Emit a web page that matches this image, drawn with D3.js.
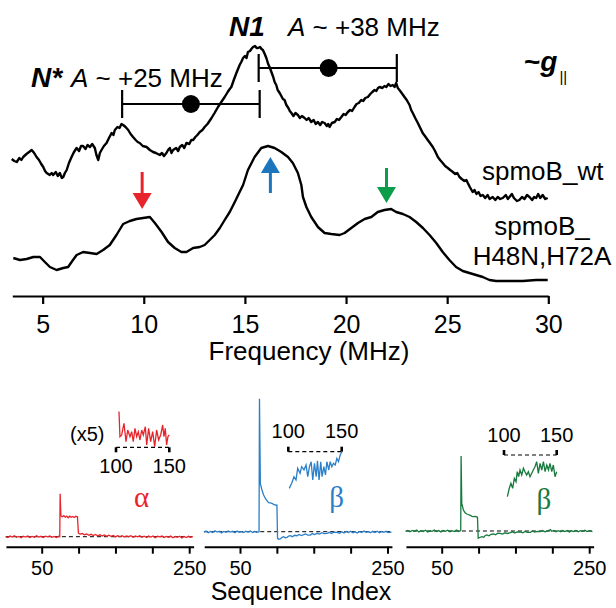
<!DOCTYPE html>
<html>
<head>
<meta charset="utf-8">
<script src="https://cdn.jsdelivr.net/npm/d3@7.9.0/dist/d3.min.js"></script>
<style>
  body { margin: 0; background: #fff; }
  svg { display: block; }
</style>
</head>
<body>
<svg id="chart" width="616" height="608"></svg>
<script>
// ENDOR spectra: [frequency (MHz), intensity (a.u.)]
const wtSpectrum = [
  [3.47,137],[3.6,135],[3.72,134],[3.85,138],[3.95,136],[4.04,139],[4.2,142],[4.33,144],[4.46,146],[4.58,143],
  [4.70,139],[4.82,136],[4.93,132],[5.03,129],[5.12,125],[5.20,123],[5.35,121],[5.45,123],[5.52,121],[5.65,124],
  [5.75,120],[5.85,123],[5.95,118],[6.02,119],[6.1,123],[6.19,126],[6.3,133],[6.43,139],[6.55,144],[6.68,148],
  [6.8,145],[6.9,150],[7.00,150],[7.12,147],[7.22,151],[7.34,149],[7.45,152],[7.58,148],[7.66,141],[7.75,136],
  [7.83,143],[7.91,146],[8.03,150],[8.16,153],[8.28,158],[8.41,163],[8.5,161],[8.57,166],[8.7,169],[8.8,168],
  [8.9,172],[8.98,171],[9.1,169],[9.23,166],[9.35,162],[9.47,159],[9.6,156],[9.7,154],[9.80,153],[9.95,150],
  [10.14,149],[10.3,146],[10.46,144],[10.6,143],[10.79,141],[10.9,143],[11.0,140],[11.12,143],[11.2,146],[11.29,148],
  [11.37,143],[11.45,146],[11.6,148],[11.7,145],[11.78,149],[11.9,151],[12.0,148],[12.11,153],[12.25,152],[12.35,156],
  [12.44,156],[12.55,159],[12.65,161],[12.77,164],[12.9,166],[13.01,169],[13.15,172],[13.25,175],[13.35,178],[13.5,183],
  [13.67,189],[13.8,193],[13.9,196],[14.00,199],[14.15,204],[14.25,207],[14.33,209],[14.45,216],[14.58,223],[14.66,227],
  [14.74,231],[14.82,234],[14.91,238],[15.0,240],[15.08,238],[15.15,244],[15.25,245],[15.32,247],[15.40,249],[15.5,250],
  [15.58,248],[15.65,248],[15.75,249],[15.82,247],[15.89,246],[15.98,242],[16.06,238],[16.15,232],[16.22,229],[16.31,224],
  [16.4,219],[16.47,214],[16.55,211],[16.62,206],[16.72,203],[16.8,200],[16.88,197],[16.96,196],[17.05,191],[17.15,188],
  [17.22,185],[17.30,183],[17.4,180],[17.5,183],[17.62,181],[17.72,178],[17.82,180],[17.95,178],[18.05,176],[18.15,178],
  [18.28,174],[18.4,176],[18.5,172],[18.61,174],[18.72,171],[18.82,174],[18.94,173],[19.05,170],[19.12,172],[19.19,169],
  [19.3,173],[19.44,174],[19.55,177],[19.65,176],[19.77,179],[19.88,182],[19.98,181],[20.09,184],[20.2,186],[20.3,185],
  [20.42,189],[20.52,192],[20.63,193],[20.75,196],[20.85,195],[20.95,198],[21.08,199],[21.2,202],[21.3,204],[21.41,206],
  [21.5,205],[21.58,208],[21.66,209],[21.8,208],[21.9,210],[21.99,209],[22.1,212],[22.2,210],[22.31,211],[22.4,209],
  [22.48,213],[22.56,208],[22.64,206],[22.75,203],[22.89,199],[23.0,196],[23.14,191],[23.22,186],[23.30,183],[23.42,178],
  [23.55,173],[23.67,168],[23.79,163],[23.9,160],[24.04,156],[24.15,153],[24.29,149],[24.4,145],[24.54,139],[24.65,136],
  [24.78,133],[24.9,130],[25.03,128],[25.15,126],[25.28,124],[25.4,122],[25.5,123],[25.61,119],[25.72,117],[25.85,115],
  [25.95,116],[26.02,113],[26.12,109],[26.26,104],[26.35,106],[26.45,102],[26.55,104],[26.65,100],[26.76,101],[26.88,98],
  [27.0,101],[27.1,97],[27.25,99],[27.38,96],[27.5,99],[27.62,97],[27.75,98],[27.9,101],[28.0,97],[28.08,99],
  [28.2,102],[28.3,98],[28.45,95],[28.57,96],[28.7,99],[28.82,97],[28.95,101],[29.07,99],[29.2,96],[29.3,99],
  [29.40,98],[29.5,102],[29.6,98],[29.72,101],[29.85,97],[29.97,98]
];

const mutantSpectrum = [
  [3.55,38],[3.88,36],[4.21,37],[4.54,39],[4.87,39],[5.11,34],[5.36,29],[5.69,26],[6.02,28],[6.26,29],
  [6.43,34],[6.68,41],[7.00,44],[7.34,43],[7.67,42],[7.99,46],[8.32,51],[8.65,61],[8.98,72],[9.31,75],
  [9.64,77],[9.97,78],[10.30,79],[10.55,73],[10.88,64],[11.20,54],[11.53,48],[11.86,44],[12.11,44],[12.44,48],
  [12.77,49],[13.01,51],[13.26,56],[13.51,61],[13.76,68],[14.00,76],[14.25,84],[14.50,94],[14.74,104],[14.91,111],
  [15.15,126],[15.48,139],[15.81,148],[16.14,150],[16.47,148],[16.80,144],[17.13,139],[17.37,133],[17.62,123],[17.79,111],
  [17.87,99],[18.04,89],[18.28,79],[18.61,69],[18.94,63],[19.27,62],[19.68,61],[19.93,63],[20.26,68],[20.59,73],
  [20.92,77],[21.25,79],[21.57,84],[21.90,86],[22.23,87],[22.48,84],[22.81,82],[23.14,79],[23.47,74],[23.80,68],
  [24.13,61],[24.46,53],[24.78,44],[25.11,36],[25.44,29],[25.77,25],[26.10,23],[26.43,21],[26.76,19],[27.09,16],
  [27.42,15],[28.08,15],[28.74,15],[29.40,16],[29.97,16]
];

const freqTicks = [5, 10, 15, 20, 25, 30];

// hyperfine splitting bars: [low MHz, centre MHz, high MHz, level a.u.]
const nStarBar = [8.93, 12.33, 15.73, 192];
const n1Bar = [15.68, 19.14, 22.51, 228];

// marked peaks of the mutant (MHz)
const peakArrows = [9.92, 16.26, 22.0];

// sequence traces: [sequence index, signal a.u.]
const alphaTrace = [
  [1,0],[4,-0.8],[7,0.6],[10,-0.4],[13,0.9],[16,-0.6],[19,0.3],[22,-1],[25,0.5],[28,-0.3],[31,0.8],[34,-0.7],
  [37,0.2],[40,-0.5],[43,1],[46,-0.4],[49,0.4],[52,-0.9],[55,0.6],[58,-0.2],[61,0.7],[64,-0.6],[67,0.3],[70,-0.8],
  [73,0.4],[74.5,0],[75,43],[76,21],[78,20],[80,21],[82,19.5],[84,20.5],[86,19],[88,20.5],[90,19.5],[92,20.3],
  [94,19.2],[96,20.4],[98.5,20],[99.8,3.5],[102,2.6],[105,3.2],[108,2],[111,2.8],[114,1.5],[117,2.4],[120,1.2],
  [123,2.2],[126,0.9],[129,1.9],[132,0.6],[135,1.7],[138,0.4],[141,1.5],[144,0.3],[147,1.2],[150,-0.2],[153,1.1],
  [156,0.2],[159,1],[162,-0.4],[165,0.8],[168,0],[171,1],[174,-0.6],[177,0.7],[180,-0.2],[183,0.9],[186,-0.5],
  [189,0.5],[192,-0.8],[195,0.6],[198,-0.3],[201,0.7],[204,-1],[207,0.4],[210,-0.2],[213,0.8],[216,-0.7],[219,0.3],
  [222,-0.5],[225,0.6],[228,-1],[231,0.2],[234,-0.6],[237,0.5],[240,-1.2],[243,0.3],[246,-0.8],[249,0.4],[252,-0.5],[255,0]
];
const betaTrace = [
  [1,-0.5],[4,0.6],[7,-1],[10,0.3],[13,-0.8],[16,0.9],[19,-0.4],[22,0.5],[25,-1.2],[28,0.2],[31,-0.6],[34,0.8],
  [37,-0.3],[40,0.4],[43,-1],[46,0.6],[49,-0.5],[52,0.1],[55,-0.9],[58,0.5],[61,-0.4],[64,0.7],[67,-0.8],[70,0.2],
  [73,-0.6],[75.8,0],[76.4,133],[77.6,48],[79.7,42],[81.9,37],[84.2,33.5],[86.5,31],[88.7,29],[91,28.8],[93.3,28.4],
  [95.5,27.3],[97.8,26.7],[100.1,26.5],[100.9,-6.6],[102.5,-7.5],[104.6,-7.3],[107,-5.6],[109.1,-5],[111.5,-6.2],
  [113.8,-5.6],[116,-4.3],[118.3,-4],[121,-5],[124,-3.6],[127.4,-4],[130,-2.8],[133,-3.8],[136.4,-3],[139,-2.2],
  [142,-3.5],[145.5,-3.3],[148,-1.9],[151,-2.8],[154.6,-1.6],[158,-2.4],[161,-1],[164,-2],[168.3,-1.6],[171,-0.6],
  [174,-1.8],[177,-0.4],[181.9,-0.6],[185,-1.5],[188,0],[191,-1.2],[194,0.3],[197,-0.9],[200,0.5],[203,-1],[206,-0.1],
  [209,-1.3],[212,0.2],[215,-0.8],[218,0.6],[221,-0.6],[224,0.1],[227,-1],[230,0.4],[233,-0.7],[236,0.5],[239,-1.1],
  [242,0.2],[245,-0.6],[248,0.4],[251,-0.9],[255.4,-0.5]
];
const beta2Trace = [
  [1,-0.5],[4,0.5],[7,-0.8],[10,0.6],[13,-0.3],[16,0.9],[19,-1],[22,0.3],[25,-0.5],[28,0.7],[31,-0.9],[34,0.2],
  [37,-0.4],[40,1],[43,-0.6],[46,0.4],[49,-1],[52,0.5],[55,-0.3],[58,0.8],[61,-0.7],[64,0.3],[67,-0.5],[70,0.9],
  [73,-0.4],[75.8,0.5],[76.3,75],[77.2,27.7],[79.4,21],[81.7,18.3],[84,17],[86,16.5],[88.6,15.7],[91,14.6],[93.1,14.3],
  [96,14.5],[98.5,13.7],[99.5,-7.3],[101.5,-6.5],[104.5,-5.7],[107,-6.3],[109,-4.5],[111.3,-4],[114,-4.8],[117,-3.3],
  [120.3,-3],[123,-3.8],[126,-2.2],[129.4,-2.3],[132,-3],[136,-1.8],[139,-2.5],[143,-1.7],[146,-0.8],[149,-2],[152,-1],
  [156.7,-1],[160,-1.8],[163,-0.4],[166,-1.4],[170.3,-1.3],[173,0],[176,-1.1],[180,-0.3],[183.9,-0.7],[187,0.4],[190,-0.9],
  [194,0.2],[197.5,1.5],[199,-0.3],[202,0.6],[205,-0.8],[208,0.3],[211.2,-0.7],[214,0.5],[217,-0.6],[220,0.4],[223,-0.9],
  [226,0.2],[229,-0.5],[232,0.6],[235,-0.8],[238,0.3],[241,-0.4],[244,0.7],[247,-0.6],[250,0.4],[254.4,-0.7]
];

// zoomed (x5) 100-150 region of each trace
const alphaZoom = [
  [102.8,35.7],[103.7,10.6],[105.3,12.3],[107.5,24],[109.4,5.6],[111,17.3],[113.1,10.6],[114.7,15.6],[116.2,5.6],
  [117.8,19],[119.4,10.6],[120.9,15.6],[122.5,7.3],[124.1,17.3],[125.6,12.3],[127.5,20.6],[128.8,2.3],[130.6,19],
  [132.5,5.6],[134.4,15.6],[136.3,0.6],[138.1,17.3],[140,7.3],[141.9,12.3],[143.8,22.3],[145,10.6],[146.2,19],
  [147.5,2.3],[148.7,10.6],[150,12.3]
];
const betaZoom = [
  [100.9,-36.7],[103.2,-31.6],[105.3,-25],[107.2,-28.3],[108.8,-16.6],[111,-21.6],[112.5,-15],[114.7,-18.3],
  [116.6,-13.3],[118.2,-25],[119.8,-15],[121.4,-10],[122.9,-28.3],[124.5,-11.6],[126.1,-25],[127.3,-9],[128.8,-28.3],
  [130.4,-10],[131.6,-25],[133.3,-15],[134.8,-23.3],[136.1,-10],[137.9,-18.3],[139.2,-10],[140.8,-15],[142.3,-11.6],
  [143.9,-13.3],[145.5,-6.6],[147,-10],[148.6,-3.3],[150.2,0]
];
const beta2Zoom = [
  [103.2,-41.7],[105,-33.3],[106.6,-28.3],[108.2,-33.3],[109.8,-23.3],[111.4,-26.7],[112.6,-16.7],[113.9,-21.7],
  [115.2,-15],[116.8,-20],[118.4,-13.3],[119.9,-16.7],[121.5,-20],[123.1,-16.7],[124.7,-21.7],[126.3,-18.3],
  [127.8,-15],[129.4,-11.7],[131,-6.7],[132.6,-18.3],[134.2,-8.3],[135.8,-15],[137.4,-6.7],[139,-16.7],[140.6,-10],
  [142.2,-15],[143.6,-8.3],[145.3,-16.7],[146.8,-10],[148.4,-21.7],[150,-16.7]
];

const seqTicks = [50, 100, 150, 200, 250];
const seqTickLabels = [50, 250];
const zoomTicks = [100, 150];

const FONT = '"Liberation Sans", Arial, Helvetica, sans-serif';
const SERIF = '"Liberation Serif", "Times New Roman", serif';
const RED = '#e8242b', BLUE = '#1c76bd', GREEN = '#0c9d4a';

const svg = d3.select('#chart');
svg.append('rect').attr('width', 616).attr('height', 608).attr('fill', '#fff');

// ---------- top: ENDOR spectra ----------
const x = d3.scaleLinear().domain([3.5, 30]).range([12.3, 548.3]);
const y = d3.scaleLinear().domain([0, 296]).range([296, 0]);
const line = d3.line().x(d => x(d[0])).y(d => y(d[1]));

[wtSpectrum, mutantSpectrum].forEach(s => {
    svg.append('path')
        .datum(s)
        .attr('d', line)
        .attr('fill', 'none')
        .attr('stroke', '#000')
        .attr('stroke-width', 2.4)
        .attr('stroke-linejoin', 'round');
});

const xAxis = svg.append('g')
    .attr('transform', 'translate(0,296)')
    .call(d3.axisBottom(x).tickValues(freqTicks).tickSizeInner(8).tickSizeOuter(0).tickPadding(11))
    .attr('font-family', FONT)
    .attr('font-size', 25);
xAxis.select('.domain').attr('stroke-width', 2.2);
xAxis.selectAll('.tick line').attr('stroke-width', 2.2);
xAxis.selectAll('.tick text').attr('fill', '#000');

svg.append('text')
    .attr('x', 309).attr('y', 360)
    .attr('text-anchor', 'middle')
    .attr('font-family', FONT).attr('font-size', 26)
    .text('Frequency (MHz)');

// hyperfine bars with centre dot
function hyperfineBar(b) {
    const g = svg.append('g').attr('stroke', '#000').attr('stroke-width', 2.2);
    const yy = y(b[3]);
    g.append('line').attr('x1', x(b[0])).attr('x2', x(b[2])).attr('y1', yy).attr('y2', yy);
    [b[0], b[2]].forEach(f => {
        g.append('line').attr('x1', x(f)).attr('x2', x(f)).attr('y1', yy - 14).attr('y2', yy + 14);
    });
    svg.append('circle').attr('cx', x(b[1])).attr('cy', yy).attr('r', 9).attr('fill', '#000');
}
hyperfineBar(nStarBar);
hyperfineBar(n1Bar);

// labels
const nStar = svg.append('text').attr('x', 31).attr('y', 87).attr('font-family', FONT).attr('font-size', 26);
nStar.append('tspan').attr('font-weight', 'bold').attr('font-style', 'italic').attr('font-size', 28).text('N*');
nStar.append('tspan').attr('x', 71).attr('font-style', 'italic').text('A');
nStar.append('tspan').text(' ~ +25 MHz');

const n1 = svg.append('text').attr('x', 229).attr('y', 36).attr('font-family', FONT).attr('font-size', 26);
n1.append('tspan').attr('font-weight', 'bold').attr('font-style', 'italic').attr('font-size', 28).text('N1');
n1.append('tspan').attr('x', 288).attr('font-style', 'italic').text('A');
n1.append('tspan').text(' ~ +38 MHz');

const gpar = svg.append('text').attr('x', 524).attr('y', 71).attr('font-family', FONT).attr('font-size', 28).attr('font-weight', 'bold');
gpar.append('tspan').text('~');
gpar.append('tspan').attr('font-style', 'italic').text('g');
gpar.append('tspan').attr('font-weight', 'normal').attr('font-size', 15).attr('dy', 11).attr('dx', 2).text('||');

svg.append('text').attr('x', 482).attr('y', 180)
    .attr('font-family', FONT).attr('font-size', 26).text('spmoB_wt');
svg.append('text').attr('x', 542).attr('y', 235).attr('text-anchor', 'middle')
    .attr('font-family', FONT).attr('font-size', 26).text('spmoB_');
svg.append('text').attr('x', 542).attr('y', 265).attr('text-anchor', 'middle')
    .attr('font-family', FONT).attr('font-size', 26).text('H48N,H72A');

// coloured arrows at the mutant peaks (down, up, down)
const arrowSpec = [
    { color: RED, tail: 124, tip: 87 },
    { color: BLUE, tail: 103, tip: 139 },
    { color: GREEN, tail: 128, tip: 93 }
];
peakArrows.forEach((f, i) => {
    const a = arrowSpec[i];
    const ax = x(f), y0 = y(a.tail), y1 = y(a.tip);
    const dir = y1 > y0 ? 1 : -1;
    const headBase = y1 - dir * 16;
    svg.append('line').attr('x1', ax).attr('x2', ax).attr('y1', y0).attr('y2', headBase)
        .attr('stroke', a.color).attr('stroke-width', 3);
    svg.append('path')
        .attr('d', `M${ax - 9.5},${headBase}L${ax + 9.5},${headBase}L${ax},${y1}Z`)
        .attr('fill', a.color);
});

// ---------- bottom: sequence panels ----------
const K = 0.7375; // px per residue
const panels = [
    { trace: alphaTrace, zoom: alphaZoom, color: RED, x50: 41.7, base: 536.7,
      z100: 116, z150: 169.3, zBase: 447.3, capDir: 1, zLab: 473.3, greek: 'α', gx: 141.7, gy: 507, x5: true },
    { trace: betaTrace, zoom: betaZoom, color: '#2a7fc8', x50: 240, base: 531.7,
      z100: 288.3, z150: 341.7, zBase: 451.7, capDir: -1, zLab: 438.3, greek: 'β', gx: 336.7, gy: 507 },
    { trace: beta2Trace, zoom: beta2Zoom, color: '#167a3c', x50: 441.7, base: 531,
      z100: 504, z150: 556.7, zBase: 455, capDir: -1, zLab: 441.7, greek: 'β', gx: 544, gy: 509 }
];

panels.forEach(p => {
    const sx = d3.scaleLinear().domain([1.5, 256]).range([p.x50 - 48.5 * K, p.x50 + 206 * K]);
    const sy = d3.scaleLinear().domain([0, 100]).range([p.base, p.base - 100]);

    const axis = svg.append('g')
        .attr('transform', 'translate(0,546.7)')
        .call(d3.axisBottom(sx).tickValues(seqTicks).tickSizeInner(7).tickSizeOuter(0).tickPadding(7)
            .tickFormat(d => seqTickLabels.includes(d) ? d : ''))
        .attr('font-family', FONT)
        .attr('font-size', 20);
    axis.select('.domain').attr('stroke-width', 2);
    axis.selectAll('.tick line').attr('stroke-width', 2);
    axis.selectAll('.tick text').attr('fill', '#000');

    // zero line
    svg.append('line')
        .attr('x1', sx(1.5)).attr('x2', sx(255)).attr('y1', sy(0)).attr('y2', sy(0))
        .attr('stroke', '#000').attr('stroke-width', 1).attr('stroke-dasharray', '4,3');

    svg.append('path')
        .datum(p.trace)
        .attr('d', d3.line().x(d => sx(d[0])).y(d => sy(d[1])))
        .attr('fill', 'none')
        .attr('stroke', p.color)
        .attr('stroke-width', 1.3);

    // x5 inset
    const zx = d3.scaleLinear().domain([100, 150]).range([p.z100, p.z150]);
    const zy = d3.scaleLinear().domain([0, 100]).range([p.zBase, p.zBase - 100]);
    svg.append('line')
        .attr('x1', zx(100)).attr('x2', zx(150)).attr('y1', zy(0)).attr('y2', zy(0))
        .attr('stroke', '#000').attr('stroke-width', 1.2).attr('stroke-dasharray', '4,3');
    zoomTicks.forEach(t => {
        svg.append('line')
            .attr('x1', zx(t)).attr('x2', zx(t)).attr('y1', zy(0)).attr('y2', zy(0) + p.capDir * 5)
            .attr('stroke', '#000').attr('stroke-width', 2.6);
        svg.append('text')
            .attr('x', zx(t)).attr('y', p.zLab).attr('text-anchor', 'middle')
            .attr('font-family', FONT).attr('font-size', 20).text(t);
    });
    svg.append('path')
        .datum(p.zoom)
        .attr('d', d3.line().x(d => zx(d[0])).y(d => zy(d[1])))
        .attr('fill', 'none')
        .attr('stroke', p.color)
        .attr('stroke-width', 1.3);

    svg.append('text')
        .attr('x', p.gx).attr('y', p.gy).attr('text-anchor', 'middle')
        .attr('font-family', SERIF).attr('font-size', 29).attr('fill', p.color)
        .text(p.greek);

    if (p.x5) {
        svg.append('text').attr('x', 70).attr('y', 441)
            .attr('font-family', FONT).attr('font-size', 20).text('(x5)');
    }
});

svg.append('text')
    .attr('x', 301).attr('y', 600).attr('text-anchor', 'middle')
    .attr('font-family', FONT).attr('font-size', 25)
    .text('Sequence Index');
</script>
</body>
</html>
